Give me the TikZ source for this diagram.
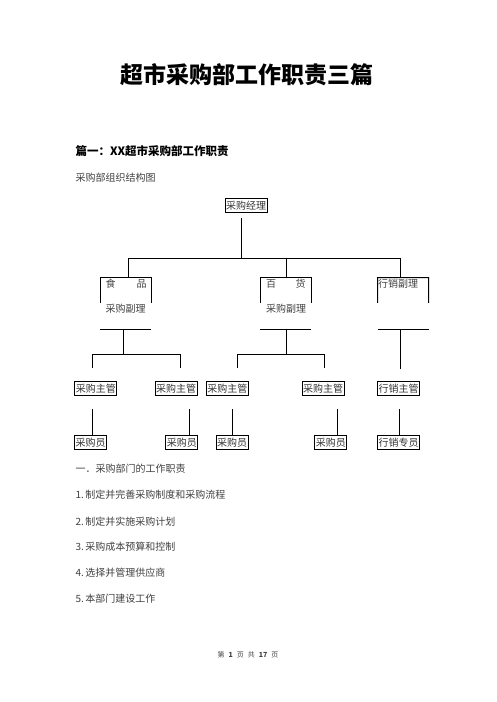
\documentclass[tikz,border=0pt]{standalone}
\usepackage{fontspec}
\setmainfont{Noto Sans CJK SC}
\usetikzlibrary{calc}
\begin{document}
\begin{tikzpicture}[x=1pt,y=-1pt, line width=1pt,
 box/.style={draw, inner xsep=1pt, inner ysep=0pt, minimum height=14pt, font=\fontsize{10}{12}\selectfont, text=black!80},
 txt/.style={anchor=west, inner sep=0pt, font=\fontsize{10}{12}\selectfont, text=black!75},
 frame/.style={minimum width=50pt, minimum height=51pt, inner sep=0pt}]
\useasboundingbox (0,0) rectangle (496,702);
% texts
\node[font=\fontsize{23}{25}\selectfont\bfseries] (title) at (247,75) {超市采购部工作职责三篇};
\node[txt, font=\fontsize{11.5}{13}\selectfont\bfseries, text=black] (h1) at (75,151) {篇一：XX超市采购部工作职责};
\node[txt] (sub) at (75,178) {采购部组织结构图};
% manager
\node[box] (m) at (246,205.5) {采购经理};
\coordinate (mt) at (241,218);
\coordinate (jb) at (241,258);
\coordinate (b1) at (128,258);
\coordinate (b2) at (286,258);
\coordinate (b3) at (400,258);
% vice frames
\node[frame] (f) at (125.5,303.5) {};
\node[frame] (g) at (285.5,303.5) {};
\node[frame] (s) at (403,303.5) {};
\foreach \n in {f,g,s}{
 \draw ($(\n.north west)!0.49!(\n.south west)$) -- (\n.north west) -- (\n.north east) -- ($(\n.north east)!0.49!(\n.south east)$);
 \draw (\n.south west) -- (\n.south east);
}
\node[txt] (f1) at (105,284) {食};
\node[txt] (f2) at (136,284) {品};
\node[txt] (f3) at (105,309) {采购副理};
\node[txt] (g1) at (265.5,284) {百};
\node[txt] (g2) at (295,284) {货};
\node[txt] (g3) at (265.5,309) {采购副理};
\node[txt] (s1t) at (377.5,284) {行销副理};
% top connectors
\draw (mt) -- (jb);
\draw (b1) -- (b3);
\draw (b1) -- (b1 |- f.north);
\draw (b2) -- (b2 |- g.north);
\draw (b3) -- (b3 |- s.north);
% second level buses
\coordinate (fb) at (123,329);
\coordinate (fj) at (123,354);
\coordinate (gb) at (286,329);
\coordinate (gj) at (286,354);
\coordinate (sb) at (400,329);
\coordinate (se) at (400,369);
\coordinate (d1) at (92.3,354);
\coordinate (d2) at (180.7,354);
\coordinate (d3) at (237.3,354);
\coordinate (d4) at (324.3,354);
\draw (fb) -- (fj);
\draw (d1) -- (d2);
\draw (d1) -- (92.3,368);
\draw (d2) -- (180.7,368);
\draw (gb) -- (gj);
\draw (d3) -- (d4);
\draw (d3) -- (237.3,368);
\draw (d4) -- (324.3,368);
\draw (sb) -- (se);
% supervisors
\node[box] (s1) at (95.8,388.7) {采购主管};
\node[box] (s2) at (176,388.7) {采购主管};
\node[box] (s3) at (227.3,388.7) {采购主管};
\node[box] (s4) at (323,388.7) {采购主管};
\node[box] (s5) at (398.5,388.7) {行销主管};
% staff
\node[box] (p1) at (90.5,442.7) {采购员};
\node[box] (p2) at (181.8,442.7) {采购员};
\node[box] (p3) at (232,442.7) {采购员};
\node[box] (p4) at (330.8,442.7) {采购员\hspace{5pt}};
\node[box] (p5) at (398.5,442.7) {行销专员};
\foreach \x/\p in {92.3/p1, 189.3/p2, 232.3/p3, 337.3/p4, 399.3/p5}{
 \draw (\x,409) -- (\p.north -| \x,409);
}
% list
\node[txt] (l0) at (75,469) {一．采购部门的工作职责};
\node[txt] (l1) at (75,495) {1.\,制定并完善采购制度和采购流程};
\node[txt] (l2) at (75,521.5) {2.\,制定并实施采购计划};
\node[txt] (l3) at (75,547) {3.\,采购成本预算和控制};
\node[txt] (l4) at (75,573) {4.\,选择并管理供应商};
\node[txt] (l5) at (75,599) {5.\,本部门建设工作};
\node[font=\fontsize{7}{8}\selectfont, text=black!75] (foot) at (248,655) {第\hspace{4pt}\textbf{1}\hspace{4pt}页\hspace{4pt}共\hspace{4pt}\textbf{17}\hspace{4pt}页};
\end{tikzpicture}
\end{document}
